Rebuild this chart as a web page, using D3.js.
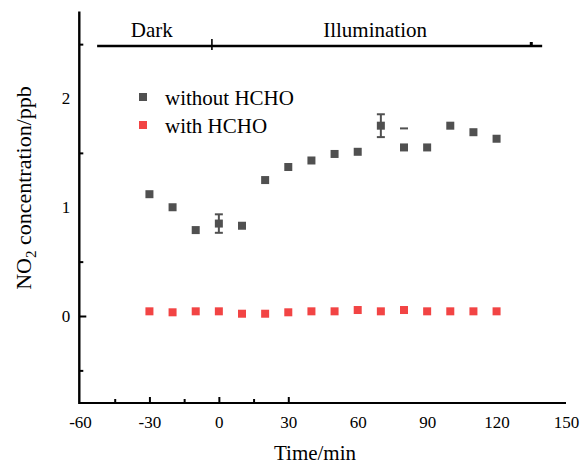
<!DOCTYPE html>
<meta charset="utf-8">

<script src="https://d3js.org/d3.v7.min.js"></script>

<style type="text/css">

body { margin: 0; background: #fff; }
svg { display: block; background: #fff; }
text { font-family: "Liberation Serif", "Times New Roman", serif; fill: #000; }
.tickLabel text { font-size: 17px; }
.marks line { stroke: #000; stroke-width: 2; }

</style>

<body>
</body>

<script>

// sampling times (min)
var times = [-30, -20, -10, 0, 10, 20, 30, 40, 50, 60, 70, 80, 90, 100, 110, 120];

// NO2 concentration (ppb)
var withoutHCHO = [1.12, 1.00, 0.79, 0.85, 0.83, 1.25, 1.37, 1.43, 1.49, 1.51, 1.75, 1.55, 1.55, 1.75, 1.69, 1.63];
var withoutErrUp   = [0, 0, 0, 0.085, 0, 0, 0, 0, 0, 0, 0.105, 0.175, 0, 0, 0, 0];
var withoutErrDown = [0, 0, 0, 0.085, 0, 0, 0, 0, 0, 0, 0.105, 0, 0, 0, 0, 0];
var withHCHO    = [0.043, 0.034, 0.043, 0.043, 0.021, 0.021, 0.034, 0.043, 0.043, 0.055, 0.043, 0.055, 0.043, 0.043, 0.043, 0.043];

var seriesNames = ["without HCHO", "with HCHO"];
var seriesColors = ["#505050", "#f24444"];

var xLabels = [-60, -30, 0, 30, 60, 90, 120, 150];
var xMajor = [-30, 0, 30];
var xMinor = [-45, -15, 15];
var yLabels = [0, 1, 2];
var yMajor = [0];
var yMinor = [2.5, 1.5, 0.5, -0.5];

var width = 583;
var height = 470;

var svg = d3.select("body").append("svg")
  .attr("width", width)
  .attr("height", height);

var x = d3.scaleLinear()
  .domain([-60, 150])
  .range([80, 566]);

var y = d3.scaleLinear()
  .domain([-0.8, 2.8])
  .range([403, 11.5]);

var x0 = x.range()[0] - 0.7, yBottom = y.range()[0];

// axis lines
svg.append("line")
  .attr("x1", x0).attr("x2", x0)
  .attr("y1", y.range()[1]).attr("y2", yBottom + 1)
  .attr("stroke", "#000").attr("stroke-width", 2.4);
svg.append("line")
  .attr("x1", x0).attr("x2", x.range()[1])
  .attr("y1", yBottom).attr("y2", yBottom)
  .attr("stroke", "#000").attr("stroke-width", 2);

// tick labels
var fmt = function(d) { return d < 0 ? "-" + Math.abs(d) : String(d); };

svg.append("g")
  .attr("class", "tickLabel")
  .attr("transform", "translate(0," + yBottom + ")")
  .call(d3.axisBottom(x).tickValues(xLabels).tickSize(0).tickPadding(13).tickFormat(fmt))
  .call(function(g) { g.select(".domain").remove(); });

svg.append("g")
  .attr("class", "tickLabel")
  .attr("transform", "translate(" + x0 + ",0)")
  .call(d3.axisLeft(y).tickValues(yLabels).tickSize(0).tickPadding(9).tickFormat(fmt))
  .call(function(g) { g.select(".domain").remove(); });

// inward tick marks
function marks(axis, tr) {
  svg.append("g")
    .attr("class", "marks")
    .attr("transform", tr)
    .call(axis.tickFormat(""))
    .call(function(g) { g.select(".domain").remove(); });
}
marks(d3.axisTop(x).tickValues(xMajor).tickSize(6), "translate(0," + yBottom + ")");
marks(d3.axisTop(x).tickValues(xMinor).tickSize(4), "translate(0," + yBottom + ")");
marks(d3.axisRight(y).tickValues(yMajor).tickSize(7), "translate(" + x0 + ",0)");
marks(d3.axisRight(y).tickValues(yMinor).tickSize(4), "translate(" + x0 + ",0)");

// axis titles
svg.append("text")
  .attr("x", (x(-60) + x(150)) / 2 - 8)
  .attr("y", 460)
  .attr("text-anchor", "middle")
  .style("font-size", "21px")
  .text("Time/min");

var yTitle = svg.append("text")
  .attr("transform", "translate(31,188) rotate(-90)")
  .attr("text-anchor", "middle")
  .style("font-size", "22px");
yTitle.append("tspan").text("NO");
yTitle.append("tspan").attr("dy", 5).style("font-size", "15px").text("2");
yTitle.append("tspan").attr("dy", -5).text(" concentration/ppb");

// Dark / Illumination bar
var barY = 46;
svg.append("line")
  .attr("x1", x(-52.6)).attr("x2", x(139.7))
  .attr("y1", barY).attr("y2", barY)
  .attr("stroke", "#000").attr("stroke-width", 2.6);
svg.append("line")
  .attr("x1", x(-3)).attr("x2", x(-3))
  .attr("y1", barY - 7).attr("y2", barY + 4)
  .attr("stroke", "#000").attr("stroke-width", 1.6);
svg.append("line")
  .attr("x1", x(135)).attr("x2", x(135))
  .attr("y1", barY - 4).attr("y2", barY)
  .attr("stroke", "#000").attr("stroke-width", 3);
svg.append("text")
  .attr("x", x(-29)).attr("y", 37)
  .attr("text-anchor", "middle")
  .style("font-size", "21px")
  .text("Dark");
svg.append("text")
  .attr("x", x(67.5)).attr("y", 37)
  .attr("text-anchor", "middle")
  .style("font-size", "21px")
  .text("Illumination");

// error bars (without HCHO); stem only when the bar goes both ways
var errData = times.map(function(t, i) {
  return {t: t, v: withoutHCHO[i], up: withoutErrUp[i], down: withoutErrDown[i]};
}).filter(function(d) { return d.up > 0 || d.down > 0; });

var errGroup = svg.selectAll(".errBar")
  .data(errData)
  .enter().append("g")
  .attr("class", "errBar")
  .attr("stroke", seriesColors[0])
  .attr("stroke-width", 2);

errGroup.filter(function(d) { return d.up > 0 && d.down > 0; })
  .append("line")
  .attr("x1", function(d) { return x(d.t); })
  .attr("x2", function(d) { return x(d.t); })
  .attr("y1", function(d) { return y(d.v + d.up); })
  .attr("y2", function(d) { return y(d.v - d.down); });
errGroup.selectAll(".cap")
  .data(function(d) {
    var c = [];
    if (d.up > 0) c.push({t: d.t, v: d.v + d.up});
    if (d.down > 0) c.push({t: d.t, v: d.v - d.down});
    return c;
  })
  .enter().append("line")
  .attr("class", "cap")
  .attr("x1", function(d) { return x(d.t) - 4; })
  .attr("x2", function(d) { return x(d.t) + 4; })
  .attr("y1", function(d) { return y(d.v); })
  .attr("y2", function(d) { return y(d.v); });

// points
var series = [withoutHCHO, withHCHO];
series.forEach(function(vals, s) {
  svg.selectAll(".pt" + s)
    .data(vals)
    .enter().append("rect")
    .attr("class", "pt" + s)
    .attr("x", function(d, i) { return x(times[i]) - 4; })
    .attr("y", function(d) { return y(d) - 4; })
    .attr("width", 8)
    .attr("height", 8)
    .attr("fill", seriesColors[s]);
});

// legend
var legend = svg.selectAll(".legendItem")
  .data(seriesNames)
  .enter().append("g")
  .attr("class", "legendItem")
  .attr("transform", function(d, i) { return "translate(143," + (97 + i * 28) + ")"; });

legend.append("rect")
  .attr("x", -4).attr("y", -4)
  .attr("width", 8).attr("height", 8)
  .attr("fill", function(d, i) { return seriesColors[i]; });

legend.append("text")
  .attr("x", 22)
  .attr("y", 8)
  .style("font-size", "21px")
  .text(function(d) { return d; });

</script>
